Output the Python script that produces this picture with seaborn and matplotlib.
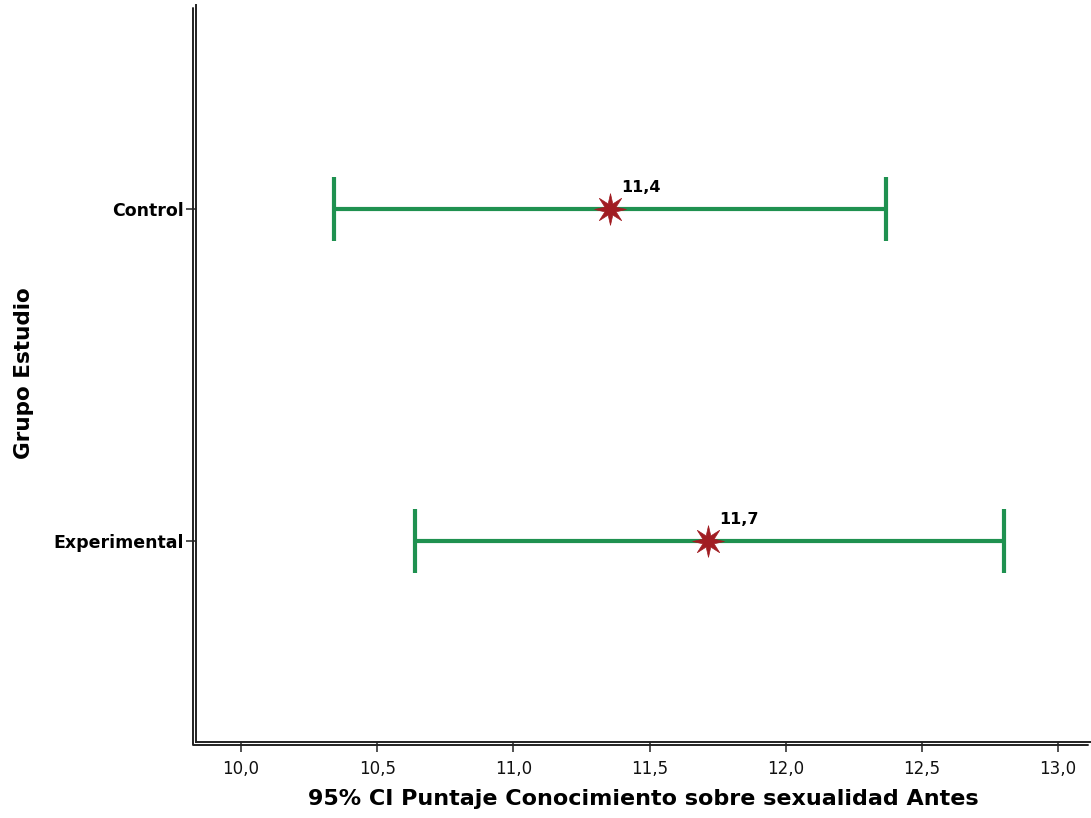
import matplotlib
matplotlib.use('Agg')
import matplotlib.pyplot as plt
from matplotlib.transforms import offset_copy
from matplotlib.path import Path
import seaborn as sns
import pandas as pd

groups = ['Control', 'Experimental']
means = [11.355, 11.715]
ci_low = [10.34, 10.64]
ci_high = [12.37, 12.80]
mean_labels = ['11,4', '11,7']
x_ticks = [10.0, 10.5, 11.0, 11.5, 12.0, 12.5, 13.0]
x_tick_labels = ['10,0', '10,5', '11,0', '11,5', '12,0', '12,5', '13,0']

sns.set_style('white')
plt.rcParams['font.family'] = ['DejaVu Sans']
plt.rcParams['text.color'] = 'black'
plt.rcParams['axes.labelcolor'] = 'black'

df = pd.DataFrame({'group': groups, 'mean': means,
                   'low': ci_low, 'high': ci_high, 'label': mean_labels})
df['pos'] = range(len(df))

fig = plt.figure(figsize=(10.91, 8.18), dpi=100)
ax = fig.add_axes([0.1797, 0.0929, 0.8203, 0.901])

green = '#1f9150'
red = '#a11d22'
star = Path.unit_regular_star(8, 0.38)

ax.errorbar(df['mean'], df['pos'],
            xerr=[df['mean'] - df['low'], df['high'] - df['mean']],
            fmt='none', ecolor=green, elinewidth=3, capsize=23,
            capthick=3, zorder=2)
sns.scatterplot(data=df, x='mean', y='pos', ax=ax, marker=star,
                s=520, color=red, edgecolor=red, linewidth=0.5, zorder=3,
                legend=False)
for _, row in df.iterrows():
    ax.annotate(row['label'], (row['mean'], row['pos']),
                xytext=(8, 10), textcoords='offset points',
                fontsize=11.5, fontweight='bold', ha='left', va='bottom')

ax.set_xlim(9.835, 13.121)
ax.set_ylim(1.605, -0.614)
ax.set_xticks(x_ticks)
ax.set_xticklabels(x_tick_labels, fontsize=12, color='#111111')
ax.set_yticks(df['pos'])
ax.set_yticklabels(groups, fontsize=12.5, fontweight='bold', color='black')

ax.set_xlabel('95% CI Puntaje Conocimiento sobre sexualidad Antes',
              fontsize=16, fontweight='bold', labelpad=8)
ax.set_ylabel('Grupo Estudio', fontsize=15.5, fontweight='bold', labelpad=14)

for side in ['top', 'right']:
    ax.spines[side].set_visible(False)
for side in ['left', 'bottom']:
    ax.spines[side].set_color('#222222')
    ax.spines[side].set_linewidth(1.4)

# outer line of the double axis frame
outer = offset_copy(ax.transAxes, fig=fig, x=-3, y=-3, units='dots')
ax.plot([0, 0, 1], [1, 0, 0], transform=outer, color='#222222',
        lw=1.4, clip_on=False)

ax.tick_params(axis='x', direction='out', length=7, width=1.2,
               color='#333333', pad=6, bottom=True)
ax.tick_params(axis='y', direction='out', length=7, width=1.2,
               color='#333333', pad=2, left=True)

fig.savefig('out.png', dpi=100)
